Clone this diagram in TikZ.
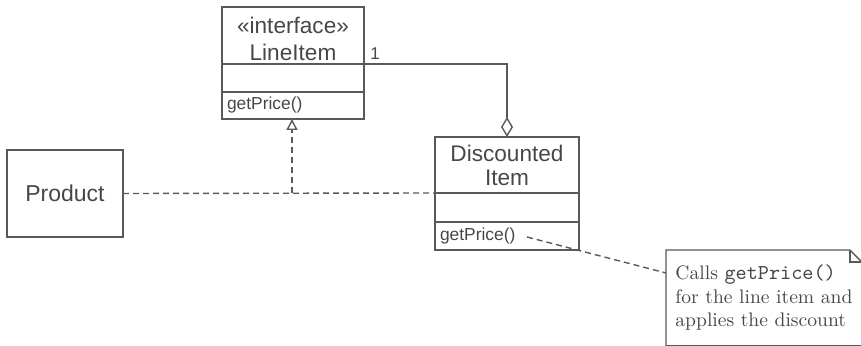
\documentclass[tikz,border=0pt]{standalone}
\usepackage{fontspec}
\setsansfont{Liberation Sans}
\usetikzlibrary{arrows.meta,positioning,calc}
\definecolor{umlgray}{gray}{0.35}
\tikzset{
  klasse/.style={draw=umlgray,line width=0.7pt,inner sep=0pt,outer sep=0pt,align=center,
                 font=\sffamily\fontsize{11.3}{13}\selectfont,text=umlgray!80!black},
  rekesz/.style={draw=umlgray,line width=0.7pt,inner sep=2.5pt,outer sep=0pt,align=left,
                 font=\sffamily\fontsize{8.7}{9}\selectfont,text=umlgray!80!black},
  szagg/.style={draw=umlgray,line width=0.7pt,dash pattern=on 3pt off 2pt},
  tomor/.style={draw=umlgray,line width=0.7pt},
  megj/.style={inner sep=4.5pt,align=left,font=\rmfamily\fontsize{9.8}{11.75}\selectfont,
               text=umlgray!80!black},
}

\begin{document}
\begin{tikzpicture}[x=0.5pt,y=-0.5pt]
  \useasboundingbox (0,0) rectangle (861,346);
  % LineItem
  \node[klasse,minimum width=71pt,minimum height=28.5pt,anchor=north west] (lineItem) at (222,7) {};
  \node[align=center,font=\sffamily\fontsize{11.3}{13.5}\selectfont,text=umlgray!80!black,
        yshift=-1.5pt] (lineItemName) at (lineItem.center) {«interface»\\LineItem};
  \node[rekesz,minimum width=71pt,minimum height=14pt,below=0pt of lineItem] (lineItemAttr) {};
  \node[rekesz,text width=66pt,minimum height=13.5pt,below=0pt of lineItemAttr] (lineItemOps) {getPrice()};
  \node[font=\sffamily\fontsize{8.5}{9}\selectfont,text=umlgray!80!black,anchor=south west,
        inner sep=1pt,xshift=2pt,yshift=1pt] (egy) at (lineItem.south east) {1};
  % DiscountedItem
  \node[klasse,minimum width=72pt,minimum height=28pt,anchor=north west,
        font=\sffamily\fontsize{11.3}{12}\selectfont] (discName) at (435,137)
        {Discounted\\Item};
  \node[rekesz,minimum width=72pt,minimum height=14.5pt,below=0pt of discName] (discAttr) {};
  \node[rekesz,text width=67pt,minimum height=14pt,below=0pt of discAttr] (discOps) {getPrice()};
  % Product
  \node[klasse,minimum width=58pt,minimum height=43.5pt,anchor=north west,
        font=\sffamily\fontsize{11.5}{13}\selectfont] (product) at (7,150) {Product};
  % megjegyzes
  \node[megj,minimum width=97pt,minimum height=47.5pt,anchor=north west] (note) at (666,250)
        {Calls {\ttfamily\fontsize{10.6}{11.75}\selectfont getPrice()}\\for the line item and\\applies the discount};
  \draw[tomor] (note.south west) -- (note.north west) -- ($(note.north east)+(-12,0)$)
        -- ($(note.north east)+(0,12)$) -- (note.south east) -- cycle;
  \draw[tomor] ($(note.north east)+(-12,0)$) |- ($(note.north east)+(0,12)$);
  % kapcsolatok
  \coordinate (elbow) at (lineItem.south east -| discName.north);
  \draw[tomor,-{Diamond[open,length=10pt,width=6pt]}] (lineItem.south east) -- (elbow) -- (discName.north);
  \draw[szagg] (product.east) -- (discName.south west);
  \coordinate (tee) at (292,119);
  \draw[szagg,-{Triangle[open,length=5.5pt,width=5.5pt,line width=0.7pt]}]
        (product.east -| tee) -- (lineItemOps.south -| tee);
  \coordinate (hivas) at (527,237);
  \draw[szagg] (hivas) -- ($(note.north west)!0.24!(note.south west)$);
\end{tikzpicture}
\end{document}
